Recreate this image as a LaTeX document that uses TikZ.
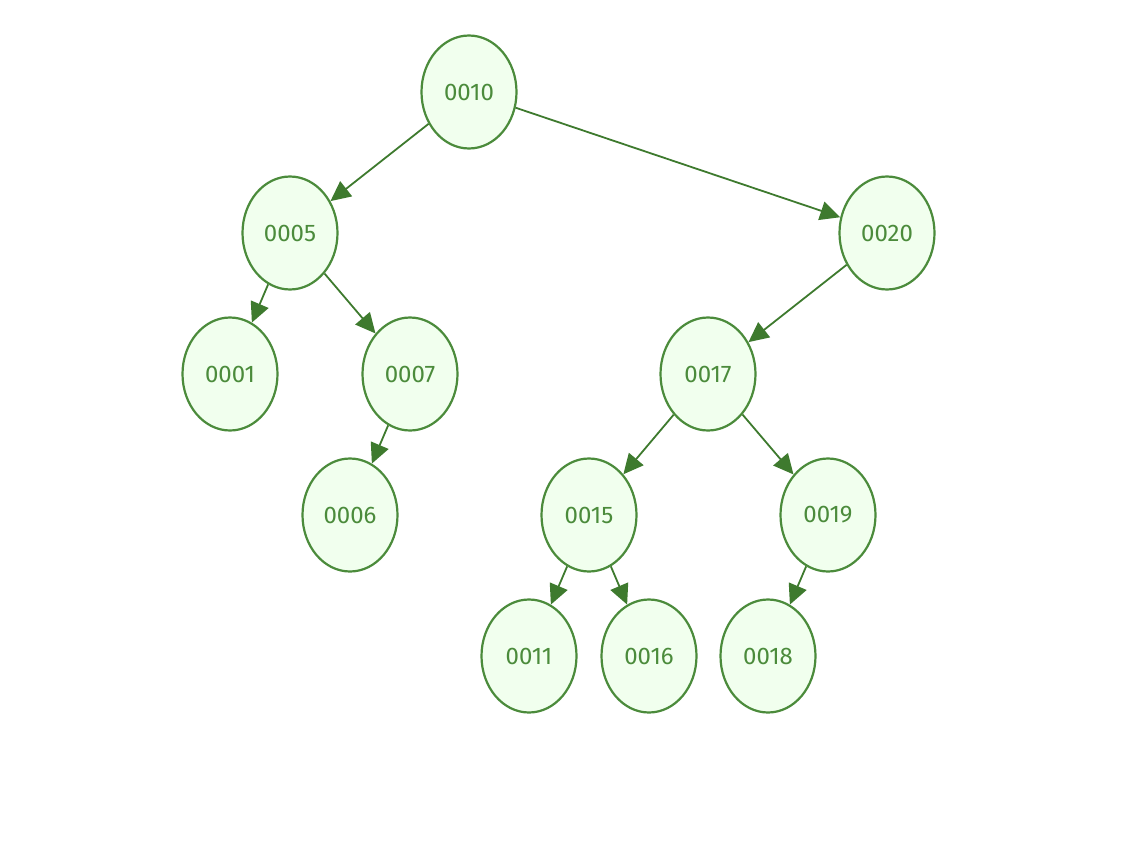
\documentclass[tikz,border=0pt]{standalone}
\usepackage{fontspec}
\setmainfont{Fira Sans}
\usetikzlibrary{shapes.geometric, arrows.meta}
\definecolor{treegreen}{HTML}{4B8B3B}
\definecolor{treedark}{HTML}{3E7A2E}
\definecolor{treefill}{HTML}{F1FFEE}
\tikzset{
  keynode/.style={
    ellipse, draw=treegreen, fill=treefill, line width=2.2pt,
    minimum width=95pt, minimum height=113pt, inner sep=0pt,
    text=treegreen, font=\fontsize{24}{24}\selectfont
  },
  link/.style={-{Triangle[length=20pt,width=19pt]}, line width=1.8pt,
    draw=treegreen, color=treedark}
}
\begin{document}
\begin{tikzpicture}[x=1pt, y=-1pt]
    \useasboundingbox (0,0) rectangle (1130,864);

    % Root
    \node[keynode] (n10) at (469,92) {0010};

    % Linker Teilbaum
    \node[keynode] (n05) at ([shift={(-179,141)}]n10) {0005};
    \node[keynode] (n01) at ([shift={(-60,141)}]n05) {0001};
    \node[keynode] (n07) at ([shift={(120,141)}]n05) {0007};
    \node[keynode] (n06) at ([shift={(-60,141)}]n07) {0006};

    % Rechter Teilbaum
    \node[keynode] (n20) at ([shift={(418,141)}]n10) {0020};
    \node[keynode] (n17) at ([shift={(-179,141)}]n20) {0017};
    \node[keynode] (n15) at ([shift={(-119,141)}]n17) {0015};
    \node[keynode] (n19) at ([shift={(120,141)}]n17) {0019};
    \node[keynode] (n11) at ([shift={(-60,141)}]n15) {0011};
    \node[keynode] (n16) at ([shift={(60,141)}]n15) {0016};
    \node[keynode] (n18) at ([shift={(-60,141)}]n19) {0018};

    % Kanten
    \draw[link] (n10) -- (n05);
    \draw[link] (n10) -- (n20);
    \draw[link] (n05) -- (n01);
    \draw[link] (n05) -- (n07);
    \draw[link] (n07) -- (n06);
    \draw[link] (n20) -- (n17);
    \draw[link] (n17) -- (n15);
    \draw[link] (n17) -- (n19);
    \draw[link] (n15) -- (n11);
    \draw[link] (n15) -- (n16);
    \draw[link] (n19) -- (n18);
  \end{tikzpicture}
\end{document}
